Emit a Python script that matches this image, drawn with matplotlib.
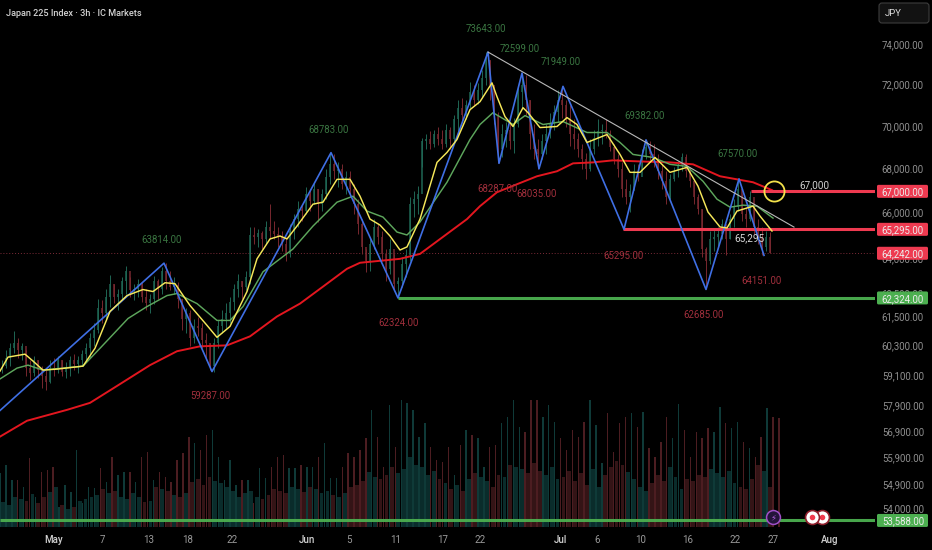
"""Japan 225 3h chart, dark theme, zigzag swing labels and volume underneath."""
import numpy as np
import matplotlib
matplotlib.use("Agg")
import matplotlib.pyplot as plt
from matplotlib.patches import FancyBboxPatch
from matplotlib.transforms import IdentityTransform, blended_transform_factory

plt.rcParams["font.family"] = ["Roboto", "DejaVu Sans"]

# candles, one every 2 bars
highs = [59750,60150,60440,60930,60640,60440,60150,59750,59910,59750,59510,59350,59750,59830,59910,59750,59670,59910,59990,59910,60150,60440,60850,61260,62300,62220,62720,63310,62930,62720,63230,63700,63230,62930,63140,63010,62720,62510,63270,63140,63660,63830,63490,63230,63010,62300,61880,61800,61460,61540,61260,60850,60440,60640,61380,61800,62090,62380,62930,63360,63060,63490,65400,65400,65310,65220,65660,66420,65660,65400,65220,64960,65530,65980,66560,66420,67190,67100,67420,67100,67100,68010,68750,68700,68330,68240,67920,67920,67330,66650,65750,64430,64960,65750,65530,65220,64430,64870,64220,63230,64090,64430,66740,67010,67240,69490,69640,69780,69870,69970,69870,70110,69970,70580,71300,71400,71300,72170,72020,72120,72760,73643,73260,72020,70720,70110,70250,70110,70440,72020,72599,72510,71300,70110,69400,69640,70110,70670,71060,71780,71949,71300,71060,70350,69730,69170,68790,69400,69870,70350,70110,70350,69870,69170,68700,68330,67550,67330,68240,68240,68940,69382,69310,69170,68700,68240,67920,67780,68100,68380,68790,68700,68100,67330,66870,66200,64520,65220,65310,65400,65750,65400,65980,66650,67570,66870,66290,67010,66420,65750,65400,65220,65180]
lows = [59230,59430,59510,60030,59830,59750,59110,58950,59110,59030,58630,58550,58830,59110,59230,59110,59030,59110,59350,59230,59510,59750,59830,60310,60850,61260,61380,61960,62090,61800,62220,62510,62380,62220,62380,62170,61800,61710,62050,62300,62510,62720,62640,62470,61880,60970,60850,60310,60440,60720,60230,59750,59345,59287,60230,60850,61050,61260,61800,62380,62300,62640,62930,64650,64520,64430,64650,64870,64870,64520,64340,63910,64090,64870,65400,65660,65980,66110,66420,65620,66110,66650,67330,67550,67190,67100,66870,66740,65980,65090,64220,63440,63490,64430,64650,63910,63060,63360,62640,62324,62800,63230,63910,65840,65980,68100,68940,68940,69030,69120,68940,69030,68940,69310,69730,70250,70350,70920,71060,71110,71400,72020,71300,70110,68287,68560,69030,68940,68790,69970,70920,70580,68940,68470,68035,68470,68700,69490,69870,70250,70440,69970,69080,68940,68560,68010,67550,67920,68700,69080,69170,69490,68840,68240,67640,66740,66420,66060,67100,67460,68010,68470,68380,68100,67550,67100,66420,66650,67460,67640,67920,67640,67190,66420,65980,64090,62720,63790,64340,64520,64870,64170,64870,65400,66110,65660,65400,65660,65090,64650,64170,64340,64260]
closes = [59510,59830,60230,60440,60150,60310,59430,59230,59750,59350,59110,58870,59430,59350,59750,59270,59430,59750,59590,59750,59990,60230,60640,60970,61880,61670,62380,62930,62380,62510,63060,63490,62640,62720,62930,62380,62090,62300,63060,62720,63490,63060,62800,62890,62300,61460,61670,60640,61130,61050,60560,60440,59510,60440,61130,61460,61670,62170,62720,63060,62800,63230,65050,64960,65130,64870,65400,65220,65090,64960,64650,64220,65220,65750,66200,66110,66870,66560,67100,66420,66870,67640,68240,67920,68010,67330,67640,67100,66420,65530,64520,63910,64650,65400,64960,64220,63570,64430,62930,63060,63790,64170,66420,66650,66870,69310,69400,69170,69640,69400,69170,69870,69400,70350,70920,70580,71060,71680,71300,71780,72360,73260,72020,70580,68940,69640,69870,69310,70110,71680,72020,71300,69640,68940,68700,69310,69640,70110,70720,71300,71060,70440,69640,69400,68940,68470,68010,68940,69490,69780,69870,69640,69030,68470,68010,67100,66740,67010,67920,67640,68560,69030,68700,68470,67920,67460,66740,67550,67920,68190,68560,67920,67460,66740,66200,64430,63910,64870,64960,65090,65530,64870,65750,66290,67100,65980,65750,66740,65400,64960,64520,64960,64260]

# volume, tall and low bars alternate about every 3 bars
vol_tall = [54,62,47,47,40,69,30,55,57,60,20,42,35,77,24,40,39,59,45,70,52,55,55,45,70,75,47,55,50,45,67,74,90,84,77,92,97,70,47,67,42,47,47,24,59,49,60,70,72,59,59,62,60,
            60,70,84,49,49,60,74,70,77,89,117,90,60,122,80,127,124,117,90,104,80,67,65,80,52,82,97,92,89,60,80,82,104,110,127,100,95,127,127,110,122,105,89,77,97,90,105,127,102,64,114,75,104,110,
            114,100,115,79,70,85,110,89,123,97,70,95,89,99,95,120,104,99,105,85,79,70,90,119,110,109]
vol_low = [25,22,30,28,26,33,24,30,35,40,22,18,20,26,28,30,32,38,34,36,30,28,34,30,25,26,40,38,36,32,30,34,45,48,42,50,46,44,40,36,30,34,36,30,28,32,38,36,34,40,38,35,40,
           38,34,36,32,30,34,40,42,46,55,50,48,52,60,54,58,70,62,60,52,56,48,44,38,42,36,48,54,50,46,40,52,50,62,60,58,54,64,56,52,60,48,50,56,46,54,42,58,40,52,60,66,
           62,55,48,40,36,44,52,46,60,50,38,48,46,52,50,58,54,50,56,44,40,38,48,62,56,40]

yellow_x = [0,4,12.5,16.5,21.5,28.5,41.5,47.5,55,63.5,71.5,76.5,82.5,87.5,95,103.5,108.5,115,123.5,128.5,135,140,143.5,148.5,156.5,161.5,168.5,175,180,185,190,195,200,203.5,210,218.5,223.5,228.5,235,240,246,248.5,252.5,256.5,261.5,264,270,278.5,283.5,288.5,293.5,303.5,310,315,320,327.5,335,343.5,349,354,360,363.5,368.5,376.5,380,386]
yellow_p = [59305,59870,59990,59710,59345,59385,59505,60230,61755,62425,62680,62595,62970,62930,62005,61175,60680,61130,62595,64000,64870,65000,64870,65440,66420,66510,67550,67550,66780,65750,65485,65000,64385,64520,65750,68330,68795,69400,70820,71205,72120,71445,70485,70015,70915,70675,69965,70015,70440,70110,69260,69635,68700,67870,67870,68560,67870,68100,67235,66065,65400,65355,66110,66330,65885,65220]
green_x = [0,8.5,14,21.5,41.5,50,64,73.5,83.5,88.5,98.5,108.5,115,121.5,131.5,140,146.5,156.5,168.5,176.5,183.5,191.5,198.5,203.5,210,223.5,235,240,246.5,256.5,262.5,271.5,281.5,293.5,303.5,310,316.5,326.5,335,343.5,351.5,358.5,365,371.5,378.5,386.5]
green_p = [58990,59425,59545,59345,59505,60230,61460,61960,62425,62510,62085,61380,61380,61960,63440,64000,64430,65440,66510,66780,66110,65840,65175,65045,65620,67415,69400,70110,70675,70110,70535,70110,70250,69730,69730,69260,68700,68560,68240,68145,67460,66645,66285,66375,66330,65795]
red_x = [0,13.5,33.5,45,58.5,75,88.5,100,113.5,125,138.5,150,161.5,173.5,180,190,200,210,233.5,240,248.5,258.5,268.5,278.5,286.5,296.5,306.5,318.5,335,346.5,360,376.5,386]
red_p = [56725,57340,57765,58040,58710,59545,60110,60310,60350,60720,61545,62085,62805,63570,63830,63915,64000,64215,65750,66330,66960,67325,67690,67920,68285,68330,68425,68380,68330,68240,67690,67415,67055]

# zigzag swings
zig_x = [0,82,106,165.5,199,244,249.5,261,269.5,281.5,312,323,353,369.5,382]
zig_p = [57740,63814,59287,68783,62324,73643,68287,72599,68035,71949,65295,69382,62685,67570,64151]

swing_up = ["73643.00","72599.00","71949.00","69382.00","67570.00","68783.00","63814.00"]
swing_up_x = [243,260,280.5,322.5,368.5,164.5,81]
swing_up_p = [74807,73800,73155,70535,68700,69870,64825]
swing_dn = ["59287.00","62324.00","68287.00","68035.00","65295.00","62685.00","64151.00"]
swing_dn_x = [105,199.5,249,268.5,311.5,352,381]
swing_dn_p = [58320,61255,67100,66870,64130,61625,63060]

price_ticks = [74000,72000,70000,68000,66000,64000,62500,61500,60300,59100,57900,56900,55900,54900,54000]
date_ticks = [27,51,74.5,94,116,153.5,174.5,198,221.5,240,280,298.5,320.5,344,367.5,386.5,415]
date_labels = ["May","7","13","18","22","Jun","5","11","17","22","Jul","6","10","16","22","27","Aug"]
months = ["May","Jun","Jul","Aug"]

level_red = [67000, 65295]
level_red_start = [375.5, 311.5]
level_green = [62324, 53588]
level_green_start = [199, 0]
last_price = 64242

RED = "#ee3a50"
GREEN = "#4caf50"
UP = "#1f6654"
DOWN = "#78282f"
W, H = 932, 550

fig = plt.figure(figsize=(W / 100, H / 100), dpi=100, facecolor="black")
ax = fig.add_axes([0, 23 / H, 875 / W, 527 / H])
ax_v = ax.twinx()
ax.set_zorder(ax_v.get_zorder() + 1)
ax.patch.set_visible(False)
ax_v.set_facecolor("black")

ax.set_yscale("log")
ax.set_ylim(53350, 76292)
ax.set_xlim(0, 437.5)
ax.yaxis.set_major_locator(plt.NullLocator())
ax.yaxis.set_minor_locator(plt.NullLocator())
ax_v.set_ylim(0, 527)
ax_v.set_yticks([])
for a in (ax, ax_v):
    for s in a.spines.values():
        s.set_visible(False)

# volume
o = np.array([closes[0]] + closes[:-1])
c = np.array(closes)
cx = np.arange(len(c)) * 2 + 1
vx = np.arange(len(vol_tall)) * 2.95
lx = np.arange(len(vol_low)) * 2.95 + 1.47
def is_up(xs):
    i = np.clip(np.round((np.asarray(xs) - 1) / 2).astype(int), 0, len(c) - 1)
    return c[i] >= o[i]
ax_v.bar(lx, vol_low, width=1.9, color=["#0a2c2b" if u else "#341416" for u in is_up(lx)], lw=0)
ax_v.bar(vx, vol_tall, width=0.7, color=["#0f3a38" if u else "#4c1d21" for u in is_up(vx)], lw=0)

# candles
col = [UP if u else DOWN for u in c >= o]
ax.vlines(cx, lows, highs, colors=col, lw=0.7, zorder=2)
ax.vlines(cx, o, c, colors=col, lw=1.1, zorder=2)

# levels
for p, s in zip(level_red, level_red_start):
    ax.hlines(p, s, 437.5, color=RED, lw=2.2, zorder=4)
for p, s in zip(level_green, level_green_start):
    ax.hlines(p, s, 437.5, color=GREEN, lw=2.2, alpha=0.95, zorder=4)
ax.hlines(last_price, 0, 437.5, color="#7d2b38", lw=0.7, linestyles=(0, (1, 2)), zorder=1)

# averages, zigzag, trend line
ax.plot(red_x, red_p, color="#e3161f", lw=1.4, zorder=3)
ax.plot(green_x, green_p, color="#5da65c", lw=1.05, zorder=3)
ax.plot(yellow_x, yellow_p, color="#f6e85a", lw=1.05, zorder=5)
ax.plot(zig_x, zig_p, color="#3f6fe4", lw=1.2, zorder=4)
ax.plot([244, 397], [73643, 65395], color="#b9b9b9", lw=0.8, zorder=4)
ax.plot([387], [67010], "o", mfc="none", mec="#f3e24b", mew=1.3, ms=14.5, zorder=6)

for t, x, p in zip(swing_up, swing_up_x, swing_up_p):
    ax.text(x, p, t, color="#3a7541", fontsize=6.9, ha="center", va="center", zorder=6)
for t, x, p in zip(swing_dn, swing_dn_x, swing_dn_p):
    ax.text(x, p, t, color="#a02f3c", fontsize=6.9, ha="center", va="center", zorder=6)
ax.text(407, 67300, "67,000", color="#cfcfcf", fontsize=7.2, ha="center", va="center", zorder=6)
ax.text(374.5, 64920, "65,295", color="#d8d8d8", fontsize=7.2, ha="center", va="center", zorder=6)

# bottom markers
ax.plot([386.5], [53697], "o", mfc="#24143a", mec="#a04fc8", mew=1.1, ms=10, zorder=7)
ax.text(386.5, 53697, "\u26a1", color="#b45fe0", fontsize=6, ha="center", va="center", zorder=8, family=["DejaVu Sans"])
for x, z in [(411, 7), (406, 8)]:
    ax.plot([x], [53697], "o", mfc="white", mec="#8f1f2c", mew=1.2, ms=10, zorder=z)
    ax.plot([x], [53697], "o", mfc="#f0394d", mec="none", ms=4, zorder=z)

# date axis
ax.set_xticks(date_ticks)
ax.set_xticklabels(date_labels, fontsize=7)
ax.tick_params(axis="x", length=0, pad=6, colors="#9a9a9a")
for lab in ax.get_xticklabels():
    if lab.get_text() in months:
        lab.set_color("#d2d2d2")
        lab.set_fontweight("medium")

# price axis, pills go on top of the plain tick labels
yt = blended_transform_factory(fig.transFigure, ax.transData)
RX = 924 / W
for p in price_ticks:
    ax.text(RX, p, f"{p:,.2f}", transform=yt, color="#8f8f8f", fontsize=6.9, ha="right", va="center",
            clip_on=False, zorder=1)

fig.canvas.draw()
def pill(price, color):
    ypx = ax.transData.transform((0, price))[1]
    fig.add_artist(FancyBboxPatch((877, ypx - 6.5), 51, 13, boxstyle="round,pad=0,rounding_size=1.5",
                                  fc=color, ec="none", transform=IdentityTransform(), zorder=10))
    fig.text(924 / W, ypx / H, f"{price:,.2f}", color="#ececec", fontsize=6.9, ha="right", va="center_baseline", zorder=11)

for p in level_red + [last_price]:
    pill(p, RED)
for p in level_green:
    pill(p, GREEN)

# header
fig.text(6 / W, 1 - 13 / H, "Japan 225 Index \u00b7 3h \u00b7 IC Markets", color="#d2d2d2", fontsize=6.6, va="center", fontweight="medium")
fig.add_artist(FancyBboxPatch((879, H - 23), 50, 20, boxstyle="round,pad=0,rounding_size=3",
                              fc="#121212", ec="#3d3d3d", lw=0.8, transform=IdentityTransform()))
fig.text(885 / W, 1 - 13 / H, "JPY", color="#dcdcdc", fontsize=6.8, va="center")

fig.savefig("out.png", dpi=100, facecolor="black")
